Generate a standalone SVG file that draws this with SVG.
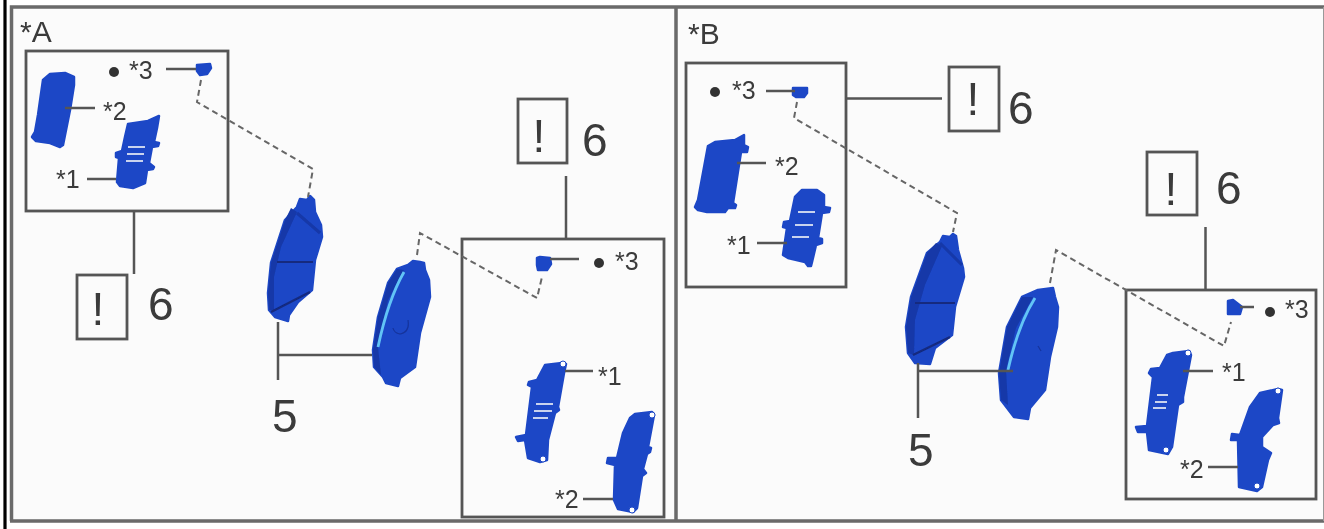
<svg xmlns="http://www.w3.org/2000/svg" width="1324" height="529" viewBox="0 0 1324 529">
<style>
.t{font-family:"Liberation Sans",Arial,sans-serif;fill:#3a3a3a}
.s{font-size:25px}.h{font-size:30px}.n{font-size:46px}.x{font-size:46px}
.frame{fill:none;stroke:#6a6a6a;stroke-width:3.500}
.box{fill:none;stroke:#555;stroke-width:2.800}
.l{fill:none;stroke:#555;stroke-width:2.500}
.d{fill:none;stroke:#666;stroke-width:2;stroke-dasharray:6 4}
.p{fill:#1c47c6;stroke:#1c47c6;stroke-width:2.500;stroke-linejoin:round}
.dk{fill:#1538a8}
.dl{fill:none;stroke:#12297e;stroke-width:2.200}
.da{fill:none;stroke:#1538a8;stroke-width:3}
.fine{fill:none;stroke:#14339c;stroke-width:1.200}
.w{stroke:#c9d3ee;stroke-width:2.200;fill:none}
.c{fill:none;stroke:#62c4f6;stroke-width:2.800}
.o{fill:#fff;stroke:#1c47c6;stroke-width:1}
.dot{fill:#333}
</style>
<defs><filter id="b" x="-5%" y="-5%" width="110%" height="110%"><feGaussianBlur stdDeviation="0.550"/></filter></defs>
<rect width="1324" height="529" fill="#fff"/>
<g filter="url(#b)">
<rect x="11" y="7" width="1312" height="514" fill="#fbfbfb"/>
<g id="frame">
<path d="M5 0V529" stroke="#000" stroke-width="3.200" fill="none"/>
<path class="frame" d="M11.500 521V7H1326M10 521H1326M676 7V521"/>
<path d="M1323.500 7V521" stroke="#999" stroke-width="1" fill="none"/>
</g>
<g id="panel-a">
<text class="t h" x="20" y="42">*A</text>
<g id="inset-a1"><rect class="box" x="26" y="51" width="202" height="160"/>
<circle class="dot" cx="114" cy="72" r="5"/>
<text class="t s" x="129" y="79">*3</text>
<text class="t s" x="103" y="120">*2</text>
<text class="t s" x="56" y="188">*1</text>
<path class="p" d="M197 65L210 64L211 68L207 74L200 75L197 71Z"/>
<path class="p" d="M43 80L50 74L65 73L74 77L74 85L70 110L65 135L63 145L60 147L50 143L36 141L32 137L35 132L38 115Z"/>
<path class="p" d="M128 124L148 121L159 116L157 128L154 142L159 143L158 146L152 147L149 163L154 167L153 169L147 170L145 183L133 188L120 186L117 182L119 158L116 157L116 153L122 151L125 137Z"/>
<path class="w" d="M128 147H145M127 154H144M126 161H143"/>
</g>
<g id="note-a1"><rect class="box" x="77" y="275" width="50" height="64"/>
<text class="t x" x="98" y="325" text-anchor="middle">!</text>
<text class="t n" x="148" y="320">6</text></g>
<g id="pad-a-left">
<path class="p" d="M297 207L300 199L307 200L310 196L314 200L315 212L321 225L322 237L315 260L312 290L298 302L289 315L288 321L275 317L269 310L268 293L271 263L285 220Z"/>
<path class="dk" d="M291 208L297 212L281 247L274 277L274 310L269 310L268 293L271 263L285 220Z"/>
<path class="da" d="M297 213L320 233"/>
<path class="dl" d="M277 262H313M271 312L310 292"/>
</g>
<g id="pad-a-right">
<path class="p" d="M408 265L413 261L420 262L424 263L425 270L429 280L430 297L420 333L415 367L400 378L398 386L386 383L383 377L374 367L373 350L378 317L388 283L397 269Z"/>
<path class="dk" d="M397 269L404 270L388 300L378 347L381 375L374 367L373 350L378 317L388 283Z"/>
<path class="c" d="M404 272Q388 300 378 347"/>
<path class="fine" d="M408 320Q410 332 400 334Q394 333 393 328"/>
<text class="t n" x="272" y="432">5</text>
</g>
<g id="inset-a2"><rect class="box" x="462" y="239" width="202" height="278"/>
<circle class="dot" cx="599" cy="263" r="5"/>
<text class="t s" x="615" y="270">*3</text>
<text class="t s" x="598" y="385">*1</text>
<text class="t s" x="555" y="508">*2</text>
<path class="p" d="M540 257L550 258L551 264L547 270L538 270L537 265L537 258Z"/>
<path class="p" d="M545 365L562 363L566 364L564 373L558 407L559 410L555 413L548 440L547 460L540 462L528 458L525 440L518 441L516 437L526 435L532 387L528 385L529 382L537 380Z"/>
<circle class="o" cx="563" cy="364" r="3"/><circle class="o" cx="543" cy="459" r="3"/>
<path class="w" d="M536 404H553M534 411H552M533 418H548"/>
<path class="p" d="M635 414L652 412L654 415L648 447L651 448L650 452L647 454L643 469L646 473L642 476L637 508L633 512L618 509L614 500L615 465L607 463L608 458L617 458L623 433L630 418Z"/>
<circle class="o" cx="652" cy="415" r="3"/><circle class="o" cx="632" cy="510" r="3"/>
</g>
<g id="note-a2"><rect class="box" x="518" y="99" width="49" height="64"/>
<text class="t x" x="539" y="152" text-anchor="middle">!</text>
<text class="t n" x="582" y="156">6</text></g>
</g>
<g id="panel-b">
<text class="t h" x="688" y="44">*B</text>
<g id="inset-b1"><rect class="box" x="686" y="63" width="160" height="224"/>
<circle class="dot" cx="715" cy="92" r="5"/>
<text class="t s" x="732" y="99">*3</text>
<text class="t s" x="775" y="175">*2</text>
<text class="t s" x="727" y="254">*1</text>
<path class="p" d="M793 88L807 88L807 93L804 97L796 97L793 95Z"/>
<path class="p" d="M708 146L715 142L735 140L744 135L744 145L748 147L747 152L741 152L733 203L736 205L735 208L728 208L725 212L707 212L698 210L695 207L698 200Z"/>
<path class="p" d="M795 197L802 190L817 190L824 195L824 207L830 208L829 212L822 213L818 238L822 239L822 243L816 245L812 262L811 266L808 266L805 262L788 258L783 255L787 228L783 227L784 222L790 221Z"/>
<path class="w" d="M798 212H815M795 225H813M792 237H809"/>
</g>
<g id="note-b1"><rect class="box" x="949" y="67" width="50" height="64"/>
<text class="t x" x="973" y="115" text-anchor="middle">!</text>
<text class="t n" x="1008" y="124">6</text></g>
<g id="pad-b-left">
<path class="p" d="M940 242L943 236L950 237L953 234L956 236L958 250L963 268L964 277L955 307L952 335L935 348L930 364L915 363L908 353L906 327L911 297L927 253Z"/>
<path class="dk" d="M936 243L942 246L925 285L915 320L914 355L908 353L906 327L911 297L927 253Z"/>
<path class="da" d="M940 243L962 265"/>
<path class="dl" d="M915 303H955M913 355L950 337"/>
</g>
<g id="pad-b-right">
<path class="p" d="M1038 290L1053 288L1055 297L1058 307L1057 327L1050 357L1045 390L1030 408L1028 419L1014 417L1001 400L999 373L1007 327L1022 297Z"/>
<path class="dk" d="M1022 297L1033 297L1016 328L1006 370L1008 405L1001 400L999 373L1007 327Z"/>
<path class="c" d="M1035 298Q1018 325 1008 370"/>
<path class="fine" d="M1038 346L1041 351"/>
<text class="t n" x="908" y="466">5</text>
</g>
<g id="inset-b2"><rect class="box" x="1126" y="290" width="190" height="209"/>
<circle class="dot" cx="1270" cy="312" r="5"/>
<text class="t s" x="1285" y="318">*3</text>
<text class="t s" x="1222" y="381">*1</text>
<text class="t s" x="1180" y="478">*2</text>
<path class="p" d="M1228 301L1233 300L1242 307L1240 314L1228 314Z"/>
<path class="p" d="M1167 355L1173 353L1189 351L1191 355L1183 397L1183 402L1178 405L1172 447L1168 454L1149 450L1147 432L1138 432L1136 427L1147 426L1153 377L1149 373L1151 369L1160 368Z"/>
<circle class="o" cx="1188" cy="353" r="3"/><circle class="o" cx="1166" cy="450" r="3"/>
<path class="w" d="M1157 395H1168M1155 402H1167M1153 408H1166"/>
<path class="p" d="M1260 393L1278 389L1282 390L1278 418L1279 423L1273 425L1262 437L1262 447L1271 453L1268 460L1262 487L1257 491L1239 487L1238 440L1231 440L1232 434L1240 435L1250 407Z"/>
<circle class="o" cx="1278" cy="391" r="3"/><circle class="o" cx="1257" cy="486" r="3"/>
</g>
<g id="note-b2"><rect class="box" x="1147" y="152" width="50" height="63"/>
<text class="t x" x="1171" y="205" text-anchor="middle">!</text>
<text class="t n" x="1216" y="204">6</text></g>
</g>
<g id="connectors">
<path class="l" d="M134 211V274M566 176V239M278 322V380M278 355H372M846 98.500H942M1205.500 227V290M918 363V418M918 371H1013"/>
<path class="l" d="M166 69H196M65 108H95M87 179H116M550 259H579M565 371H593M583 499H613M766 91H795M737 163H766M757 243H787M1240 307H1254M1183 371H1213M1208 467H1238"/>
<path class="d" d="M201 80L197 102L313 169L308 197M417 255L420 233L537 298L542 277M797 102L794 118L957 213L953 232M1050 283L1056 250L1224 346L1231 322"/>
</g>
</g>
</svg>
